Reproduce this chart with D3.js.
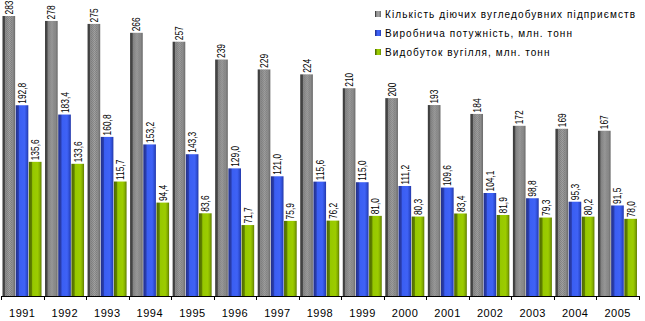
<!DOCTYPE html>
<html lang="uk">
<head>
<meta charset="UTF-8" />
<title>Вугільна промисловість</title>
<script src="https://cdn.jsdelivr.net/npm/d3@7/dist/d3.min.js"></script>
<style>
  html, body { margin: 0; padding: 0; background: #fff; }
  svg { display: block; font-family: "Liberation Sans", Arial, sans-serif; }
</style>
</head>
<body>
<svg width="645" height="321"></svg>
<script>
const years = [1991, 1992, 1993, 1994, 1995, 1996, 1997, 1998, 1999, 2000, 2001, 2002, 2003, 2004, 2005];
const enterprises = [283, 278, 275, 266, 257, 239, 229, 224, 210, 200, 193, 184, 172, 169, 167];
const capacity = [192.8, 183.4, 160.8, 153.2, 143.3, 129.0, 121.0, 115.6, 115.0, 111.2, 109.6, 104.1, 98.8, 95.3, 91.5];
const output = [135.6, 133.6, 115.7, 94.4, 83.6, 71.7, 75.9, 76.2, 81.0, 80.3, 83.4, 81.9, 79.3, 80.2, 78.0];
const seriesNames = [
  'Кількість діючих вугледобувних підприємств',
  'Виробнича потужність, млн. тонн',
  'Видобуток вугілля, млн. тонн'
];

const series = [
  { key: 'grey', name: seriesNames[0], values: enterprises, fmt: d => d3.format('d')(d) },
  { key: 'blue', name: seriesNames[1], values: capacity, fmt: d => d3.format('.1f')(d).replace('.', ',') },
  { key: 'green', name: seriesNames[2], values: output, fmt: d => d3.format('.1f')(d).replace('.', ',') }
];

const svg = d3.select('svg');
const baseY = 296;

const x = d3.scaleBand().domain(years).range([1, 639]).padding(0);
const xInner = d3.scaleBand().domain(series.map(s => s.key)).range([1.5, 40.5]).paddingInner(0.04);
const y = d3.scaleLinear().domain([0, 283]).range([baseY, 16]);

// cylinder-like shading for each series
const defs = svg.append('defs');
const shades = {
  grey: [['0%', '#3a3a3a'], ['18%', '#4a4a4a'], ['22%', '#8a8a8a'], ['55%', '#a4a4a4'], ['80%', '#8c8c8c'], ['100%', '#6a6a6a']],
  blue: [['0%', '#22308a'], ['22%', '#2a3eb0'], ['30%', '#3a5ef2'], ['70%', '#3f62f6'], ['85%', '#3050d8'], ['100%', '#2438a8']],
  green: [['0%', '#4f6a00'], ['22%', '#5f8000'], ['30%', '#96c800'], ['70%', '#9ccc00'], ['85%', '#86b000'], ['100%', '#5e7c00']]
};
Object.entries(shades).forEach(([k, stops]) => {
  const g = defs.append('linearGradient').attr('id', 'g-' + k)
    .attr('x1', 0).attr('x2', 1).attr('y1', 0).attr('y2', 0);
  stops.forEach(s => g.append('stop').attr('offset', s[0]).attr('stop-color', s[1]));
});
// dithered texture on the grey bars
const pat = defs.append('pattern').attr('id', 'dither')
  .attr('width', 2).attr('height', 2).attr('patternUnits', 'userSpaceOnUse');
pat.append('rect').attr('width', 1).attr('height', 1).attr('fill', '#555').attr('opacity', 0.35);
pat.append('rect').attr('x', 1).attr('y', 1).attr('width', 1).attr('height', 1).attr('fill', '#555').attr('opacity', 0.35);

const groups = svg.append('g').selectAll('g')
  .data(years)
  .join('g')
  .attr('transform', d => `translate(${x(d)},0)`);

series.forEach(s => {
  groups.append('rect')
    .attr('x', xInner(s.key))
    .attr('width', xInner.bandwidth())
    .attr('y', (d, i) => y(s.values[i]))
    .attr('height', (d, i) => baseY - y(s.values[i]))
    .attr('fill', `url(#g-${s.key})`);

  if (s.key === 'grey') {
    groups.append('rect')
      .attr('x', xInner(s.key) + 3)
      .attr('width', xInner.bandwidth() - 6)
      .attr('y', (d, i) => y(s.values[i]))
      .attr('height', (d, i) => baseY - y(s.values[i]))
      .attr('fill', 'url(#dither)');
  }

  // value labels: vertical, narrow glyphs
  groups.append('text')
    .attr('transform', (d, i) =>
      `translate(${xInner(s.key) + xInner.bandwidth() / 2 + 4},${y(s.values[i]) - 1.5}) rotate(-90) scale(0.8,1)`)
    .attr('font-size', 10.5)
    .attr('fill', '#000')
    .text((d, i) => s.fmt(s.values[i]));
});

// category axis: baseline with ticks between groups
const axis = svg.append('g');
axis.append('line')
  .attr('x1', x.range()[0]).attr('x2', x.range()[1])
  .attr('y1', baseY + 0.5).attr('y2', baseY + 0.5)
  .attr('stroke', '#000');
axis.selectAll('line.tick')
  .data(years.map(d => x(d)).concat([x.range()[1]]))
  .join('line')
  .attr('class', 'tick')
  .attr('x1', d => Math.round(d) + 0.5).attr('x2', d => Math.round(d) + 0.5)
  .attr('y1', baseY).attr('y2', baseY + 4)
  .attr('stroke', '#000');
axis.selectAll('text')
  .data(years)
  .join('text')
  .attr('x', d => x(d) + x.bandwidth() / 2)
  .attr('y', 317)
  .attr('text-anchor', 'middle')
  .attr('font-size', 11)
  .attr('letter-spacing', 0.5)
  .text(d => d);

// legend
const legend = svg.append('g').attr('transform', 'translate(375,0)');
const legendRows = legend.selectAll('g')
  .data(series)
  .join('g')
  .attr('transform', (d, i) => `translate(0,${14 + i * 19})`);
legendRows.append('rect')
  .attr('x', 0).attr('y', -3).attr('width', 6).attr('height', 6)
  .attr('fill', d => `url(#g-${d.key})`);
legendRows.append('text')
  .attr('x', 10).attr('y', 4)
  .attr('font-size', 10)
  .attr('letter-spacing', 1.1)
  .text(d => d.name);
</script>
</body>
</html>
